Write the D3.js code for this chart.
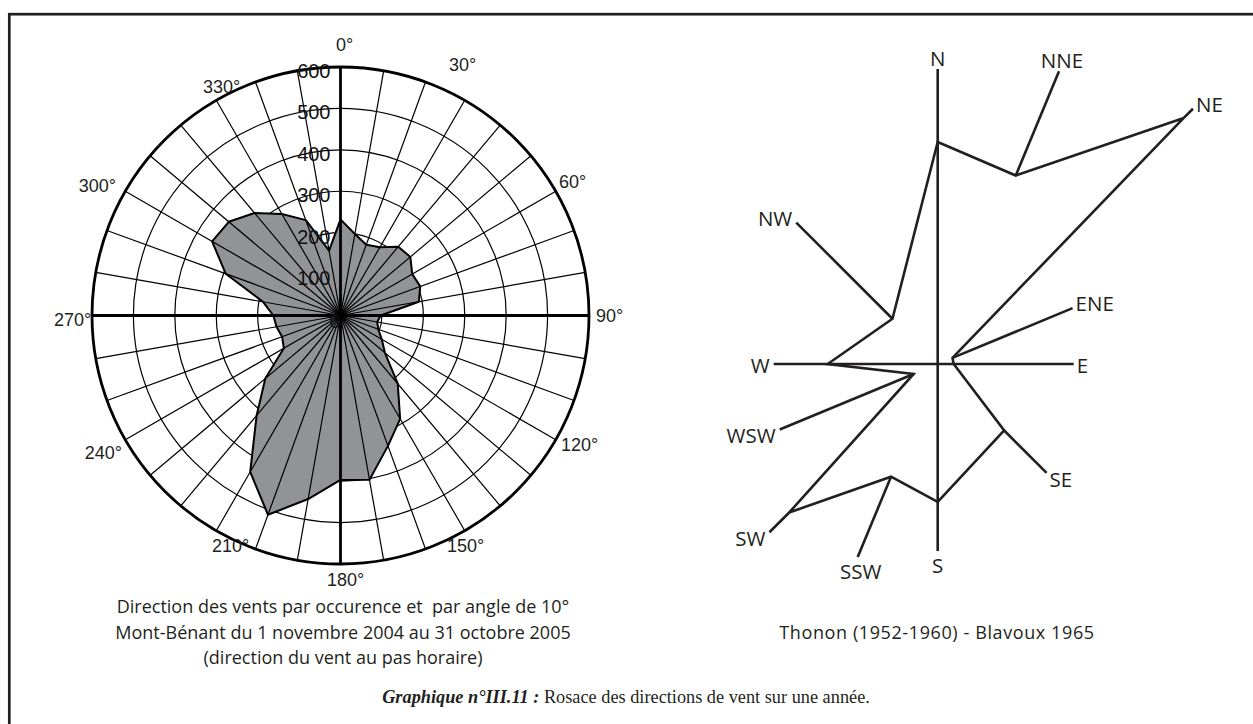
<!DOCTYPE html>
<html>
<head>
<meta charset="utf-8">
<script src="https://cdn.jsdelivr.net/npm/d3@7"></script>
<style>
  body { margin: 0; background: #fff; }
  svg { display: block; }
</style>
</head>
<body>
<svg id="chart" width="1253" height="724"></svg>
<script>
// Mont-Bénant: hourly wind direction occurrences, one value per 10° sector
const sectorAngles = d3.range(0, 360, 10);
const occurrences = [
  232, 200, 182, 190, 217, 220, 200, 205, 192,
   97,  90,  97, 115, 140, 215, 288, 335, 403,
  397, 450, 512, 436, 315, 237, 158, 150, 157,
  162, 190, 295, 358, 352, 323, 283, 245, 159
];
const radialTicks = [100, 200, 300, 400, 500, 600];
const degreeTicks = d3.range(0, 360, 30);

// Thonon (1952-1960): relative frequency per direction
const roseDirections = ["N", "NNE", "NE", "ENE", "E", "SE", "S", "SSW", "SW", "WSW", "W", "NW"];
const roseAngles = [0, 22.5, 45, 67.5, 90, 135, 180, 202.5, 225, 247.5, 270, 315];
const roseFrequency = [11.1, 10.2, 17.4, 0.8, 0.8, 4.7, 6.9, 6.1, 10.5, 1.3, 5.5, 3.2];

// layout: length of each direction's spoke, in pixels from the rose centre
const spokeLength = [295, 317, 361, 146, 136, 154, 187, 209, 238, 171, 164, 200];
// layout: hand adjustments [dx, dy] of the degree labels around the dial
const degreeLabelNudge = [
  [4, -3], [-12, -18], [0, 0], [1, 0], [7, -5], [-9, -2],
  [5, -4], [24, -2], [-5, 3], [0, 4], [-11, 4], [15, 4]
];

const ink = "#231f20";
const svg = d3.select("#chart");

// page frame
svg.append("rect")
  .attr("x", 9.3).attr("y", 14.2)
  .attr("width", 1260).attr("height", 760)
  .attr("fill", "none").attr("stroke", ink).attr("stroke-width", 2.7);

const rad = d => d * Math.PI / 180;

// ---------- polar occurrence chart ----------
const cx = 340.5, cy = 315.5, R = 248.5;
const r = d3.scaleLinear().domain([0, 600]).range([0, R]);
const polar = svg.append("g").attr("transform", `translate(${cx},${cy})`);

// rings
polar.selectAll("circle.ring").data(radialTicks.slice(0, -1)).join("circle")
  .attr("class", "ring")
  .attr("r", d => r(d))
  .attr("fill", "none").attr("stroke", "#000").attr("stroke-width", 1.2);

// occurrence polygon
const area = d3.lineRadial()
  .angle((d, i) => rad(sectorAngles[i]))
  .radius(d => r(d))
  .curve(d3.curveLinearClosed);
polar.append("path")
  .attr("d", area(occurrences))
  .attr("fill", "#929397")
  .attr("stroke", "#000").attr("stroke-width", 2)
  .attr("stroke-linejoin", "round");

// 10° spokes
polar.selectAll("line.spoke").data(sectorAngles).join("line")
  .attr("class", "spoke")
  .attr("x1", 0).attr("y1", 0)
  .attr("x2", d => R * Math.sin(rad(d)))
  .attr("y2", d => -R * Math.cos(rad(d)))
  .attr("stroke", "#000").attr("stroke-width", 1.2);

// main axes
[0, 90].forEach(a => {
  polar.append("line")
    .attr("x1", -R * Math.sin(rad(a))).attr("y1", R * Math.cos(rad(a)))
    .attr("x2", R * Math.sin(rad(a))).attr("y2", -R * Math.cos(rad(a)))
    .attr("stroke", "#000").attr("stroke-width", 2.8);
});

// outer ring
polar.append("circle").attr("r", r(600))
  .attr("fill", "none").attr("stroke", "#000").attr("stroke-width", 2.8);

// ring values
polar.selectAll("text.rv").data([0].concat(radialTicks)).join("text")
  .attr("class", "rv")
  .attr("x", d => d === 0 ? 0 : -10)
  .attr("y", d => -r(d) + (d === 0 ? 5 : 4))
  .attr("text-anchor", "end")
  .attr("dominant-baseline", "central")
  .attr("font-family", "Liberation Sans, Arial, sans-serif")
  .attr("font-size", 20)
  .attr("fill", "#111")
  .text(d => d);

// direction labels
polar.selectAll("text.deg").data(degreeTicks).join("text")
  .attr("class", "deg")
  .attr("x", (d, i) => 268 * Math.sin(rad(d)) + degreeLabelNudge[i][0])
  .attr("y", (d, i) => -268 * Math.cos(rad(d)) + degreeLabelNudge[i][1])
  .attr("text-anchor", "middle")
  .attr("dominant-baseline", "central")
  .attr("font-family", "Liberation Sans, Arial, sans-serif")
  .attr("font-size", 18)
  .attr("fill", ink)
  .text(d => d + "°");

// captions
const capFont = "Open Sans, Noto Sans, sans-serif";
const leftCaption = [
  "Direction des vents par occurence et  par angle de 10°",
  "Mont-Bénant du 1 novembre 2004 au 31 octobre 2005",
  "(direction du vent au pas horaire)"
];
svg.selectAll("text.lc").data(leftCaption).join("text")
  .attr("class", "lc")
  .attr("x", 343).attr("y", (d, i) => 613 + i * 25.5)
  .attr("text-anchor", "middle")
  .attr("font-family", capFont).attr("font-size", 18)
  .attr("fill", ink)
  .style("white-space", "pre")
  .text(d => d);

// ---------- Thonon wind rose ----------
const rx = 937.7, ry = 364;
const f = d3.scaleLinear().domain([0, 20]).range([0, 400]);
const rose = svg.append("g").attr("transform", `translate(${rx},${ry})`);
const px = (a, d) => d * Math.sin(rad(a));
const py = (a, d) => -d * Math.cos(rad(a));

// N-S and E-W axes
const idx = name => roseDirections.indexOf(name);
rose.append("line")
  .attr("x1", 0).attr("y1", py(0, spokeLength[idx("N")]))
  .attr("x2", 0).attr("y2", py(180, spokeLength[idx("S")]))
  .attr("stroke", ink).attr("stroke-width", 2.6);
rose.append("line")
  .attr("x1", px(270, spokeLength[idx("W")])).attr("y1", 0)
  .attr("x2", px(90, spokeLength[idx("E")])).attr("y2", 0)
  .attr("stroke", ink).attr("stroke-width", 2.6);

// spokes from each vertex outward
roseDirections.forEach((name, i) => {
  if (["N", "E", "S", "W"].includes(name)) return;
  const a = roseAngles[i];
  rose.append("line")
    .attr("x1", px(a, f(roseFrequency[i]))).attr("y1", py(a, f(roseFrequency[i])))
    .attr("x2", px(a, spokeLength[i])).attr("y2", py(a, spokeLength[i]))
    .attr("stroke", ink).attr("stroke-width", 2.6);
});

// frequency polygon
const roseLine = d3.lineRadial()
  .angle((d, i) => rad(roseAngles[i]))
  .radius(d => f(d))
  .curve(d3.curveLinearClosed);
rose.append("path")
  .attr("d", roseLine(roseFrequency))
  .attr("fill", "none").attr("stroke", ink).attr("stroke-width", 2.6)
  .attr("stroke-linejoin", "miter");

// direction names
roseDirections.forEach((name, i) => {
  const a = roseAngles[i];
  const s = Math.sin(rad(a)), c = Math.cos(rad(a));
  const L = spokeLength[i];
  let x = px(a, L), y = py(a, L), anchor = "middle", base = "central";
  if (s > 0.5) { anchor = "start"; x += 3; }
  else if (s < -0.5) { anchor = "end"; x -= 4; }
  else if (c > 0) { base = "auto"; y -= 3; }
  else { base = "hanging"; y += 4; }
  if (Math.abs(s) > 0.5) y += (c > 0.3 ? -5 : (c < -0.3 ? 6 : 1));
  if (Math.abs(s) <= 0.5 && Math.abs(s) > 0.01) x += 3;
  rose.append("text")
    .attr("x", x).attr("y", y)
    .attr("text-anchor", anchor)
    .attr("dominant-baseline", base)
    .attr("font-family", capFont).attr("font-size", 20.5)
    .attr("fill", ink)
    .text(name);
});

svg.append("text")
  .attr("x", 937).attr("y", 639)
  .attr("text-anchor", "middle")
  .attr("font-family", capFont).attr("font-size", 18)
  .attr("letter-spacing", 0.6)
  .attr("fill", ink)
  .text("Thonon (1952-1960) - Blavoux 1965");

// figure title
const title = svg.append("text")
  .attr("x", 626).attr("y", 703)
  .attr("text-anchor", "middle")
  .attr("font-family", "Liberation Serif, Times New Roman, serif")
  .attr("font-size", 18.3)
  .attr("fill", ink);
title.append("tspan").attr("font-weight", "bold").attr("font-style", "italic")
  .text("Graphique n°III.11 :");
title.append("tspan").text(" Rosace des directions de vent sur une année.");
</script>
</body>
</html>
